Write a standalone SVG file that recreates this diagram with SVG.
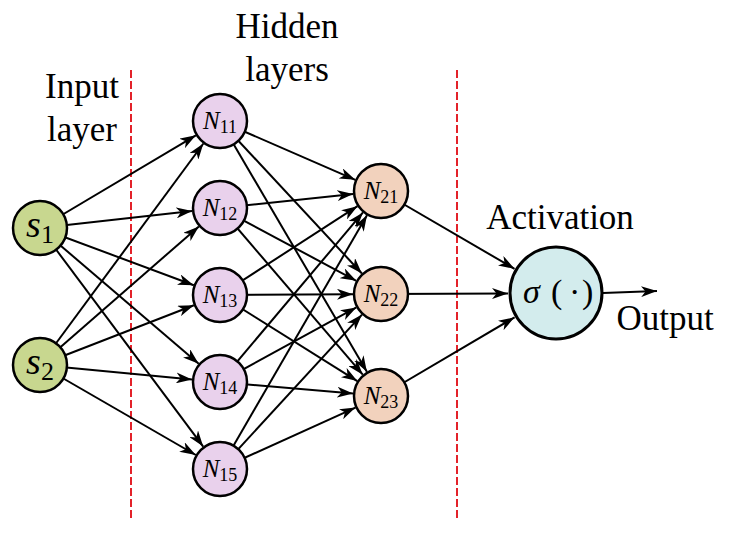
<svg xmlns="http://www.w3.org/2000/svg" width="730" height="535" viewBox="0 0 730 535">
<defs>
  <marker id="arr" markerUnits="userSpaceOnUse" markerWidth="17" markerHeight="11" refX="16" refY="5.5" orient="auto" viewBox="0 0 17 11">
    <path d="M0,0 L16,5.5 L0,11 L4.5,5.5 z" fill="#000" stroke="none"/>
  </marker>
</defs>
<rect width="730" height="535" fill="#fff"/>

<g id="separators" stroke="#e3222a" stroke-width="2" stroke-dasharray="8 3">
  <line x1="131" y1="70" x2="131" y2="518"/>
  <line x1="457" y1="70" x2="457" y2="518"/>
</g>

<g id="labels">
  <text x="287" y="38" font-family="Liberation Serif" font-size="35" text-anchor="middle">Hidden</text>
  <text x="287" y="81" font-family="Liberation Serif" font-size="35" text-anchor="middle">layers</text>
  <text x="82" y="98" font-family="Liberation Serif" font-size="35" text-anchor="middle">Input</text>
  <text x="82" y="141" font-family="Liberation Serif" font-size="35" text-anchor="middle">layer</text>
  <text x="560" y="229" font-family="Liberation Serif" font-size="35" text-anchor="middle">Activation</text>
  <text x="665" y="330" font-family="Liberation Serif" font-size="35" text-anchor="middle">Output</text>
</g>

<g id="connectors" stroke="#000" stroke-width="2" fill="none" marker-end="url(#arr)">
  <line x1="40" y1="228" x2="195.9" y2="135.3"/>
  <line x1="40" y1="228" x2="192.2" y2="211.1"/>
  <line x1="40" y1="228" x2="193.8" y2="285.2"/>
  <line x1="40" y1="228" x2="198.7" y2="363.8"/>
  <line x1="40" y1="228" x2="203.2" y2="446.6"/>
  <line x1="40" y1="365" x2="203.4" y2="143.5"/>
  <line x1="40" y1="365" x2="198.9" y2="226.4"/>
  <line x1="40" y1="365" x2="193.9" y2="305.2"/>
  <line x1="40" y1="365" x2="192.1" y2="379.4"/>
  <line x1="40" y1="365" x2="195.8" y2="455.0"/>

  <line x1="220" y1="121" x2="355.3" y2="179.8"/>
  <line x1="220" y1="208" x2="353.2" y2="193.9"/>
  <line x1="220" y1="295" x2="357.5" y2="206.2"/>
  <line x1="220" y1="382" x2="363.0" y2="212.4"/>
  <line x1="220" y1="469" x2="367.0" y2="215.2"/>

  <line x1="220" y1="121" x2="361.9" y2="273.5"/>
  <line x1="220" y1="208" x2="356.3" y2="280.8"/>
  <line x1="220" y1="295" x2="353.0" y2="294.2"/>
  <line x1="220" y1="382" x2="356.4" y2="307.4"/>
  <line x1="220" y1="469" x2="362.0" y2="314.6"/>

  <line x1="220" y1="121" x2="366.9" y2="371.8"/>
  <line x1="220" y1="208" x2="362.8" y2="374.7"/>
  <line x1="220" y1="295" x2="357.3" y2="381.1"/>
  <line x1="220" y1="382" x2="353.1" y2="393.6"/>
  <line x1="220" y1="469" x2="355.5" y2="407.6"/>

  <line x1="381" y1="191" x2="514.5" y2="268.8"/>
  <line x1="381" y1="294" x2="508" y2="293.5"/>
  <line x1="381" y1="396" x2="514.6" y2="317.3"/>

  <line x1="603" y1="293" x2="657" y2="291"/>
</g>

<g id="s1"><circle cx="40" cy="228" r="27" fill="#c8d78f" stroke="#000" stroke-width="2.5"/>
  <text x="40" y="237" font-family="Liberation Serif" font-size="38" text-anchor="middle"><tspan font-style="italic">s</tspan><tspan font-size="26" dy="6">1</tspan></text></g>
<g id="s2"><circle cx="40" cy="365" r="27" fill="#c8d78f" stroke="#000" stroke-width="2.5"/>
  <text x="40" y="374" font-family="Liberation Serif" font-size="38" text-anchor="middle"><tspan font-style="italic">s</tspan><tspan font-size="26" dy="6">2</tspan></text></g>

<g id="N11"><circle cx="220" cy="121" r="27" fill="#e9d1ec" stroke="#000" stroke-width="2.5"/>
  <text x="220" y="129" font-family="Liberation Serif" font-size="25" text-anchor="middle"><tspan font-style="italic">N</tspan><tspan font-size="18" dy="4">11</tspan></text></g>
<g id="N12"><circle cx="220" cy="208" r="27" fill="#e9d1ec" stroke="#000" stroke-width="2.5"/>
  <text x="220" y="216" font-family="Liberation Serif" font-size="25" text-anchor="middle"><tspan font-style="italic">N</tspan><tspan font-size="18" dy="4">12</tspan></text></g>
<g id="N13"><circle cx="220" cy="295" r="27" fill="#e9d1ec" stroke="#000" stroke-width="2.5"/>
  <text x="220" y="303" font-family="Liberation Serif" font-size="25" text-anchor="middle"><tspan font-style="italic">N</tspan><tspan font-size="18" dy="4">13</tspan></text></g>
<g id="N14"><circle cx="220" cy="382" r="27" fill="#e9d1ec" stroke="#000" stroke-width="2.5"/>
  <text x="220" y="390" font-family="Liberation Serif" font-size="25" text-anchor="middle"><tspan font-style="italic">N</tspan><tspan font-size="18" dy="4">14</tspan></text></g>
<g id="N15"><circle cx="220" cy="469" r="27" fill="#e9d1ec" stroke="#000" stroke-width="2.5"/>
  <text x="220" y="477" font-family="Liberation Serif" font-size="25" text-anchor="middle"><tspan font-style="italic">N</tspan><tspan font-size="18" dy="4">15</tspan></text></g>

<g id="N21"><circle cx="381" cy="191" r="27" fill="#f2d2bd" stroke="#000" stroke-width="2.5"/>
  <text x="381" y="199" font-family="Liberation Serif" font-size="25" text-anchor="middle"><tspan font-style="italic">N</tspan><tspan font-size="18" dy="4">21</tspan></text></g>
<g id="N22"><circle cx="381" cy="294" r="27" fill="#f2d2bd" stroke="#000" stroke-width="2.5"/>
  <text x="381" y="302" font-family="Liberation Serif" font-size="25" text-anchor="middle"><tspan font-style="italic">N</tspan><tspan font-size="18" dy="4">22</tspan></text></g>
<g id="N23"><circle cx="381" cy="396" r="27" fill="#f2d2bd" stroke="#000" stroke-width="2.5"/>
  <text x="381" y="404" font-family="Liberation Serif" font-size="25" text-anchor="middle"><tspan font-style="italic">N</tspan><tspan font-size="18" dy="4">23</tspan></text></g>

<g id="sigma"><circle cx="556" cy="293" r="46" fill="#d3eced" stroke="#000" stroke-width="3"/>
  <text y="303" font-family="Liberation Serif" font-size="34"><tspan font-style="italic" x="523">σ</tspan><tspan x="551">(</tspan><tspan x="569">·</tspan><tspan x="582">)</tspan></text></g>
</svg>
